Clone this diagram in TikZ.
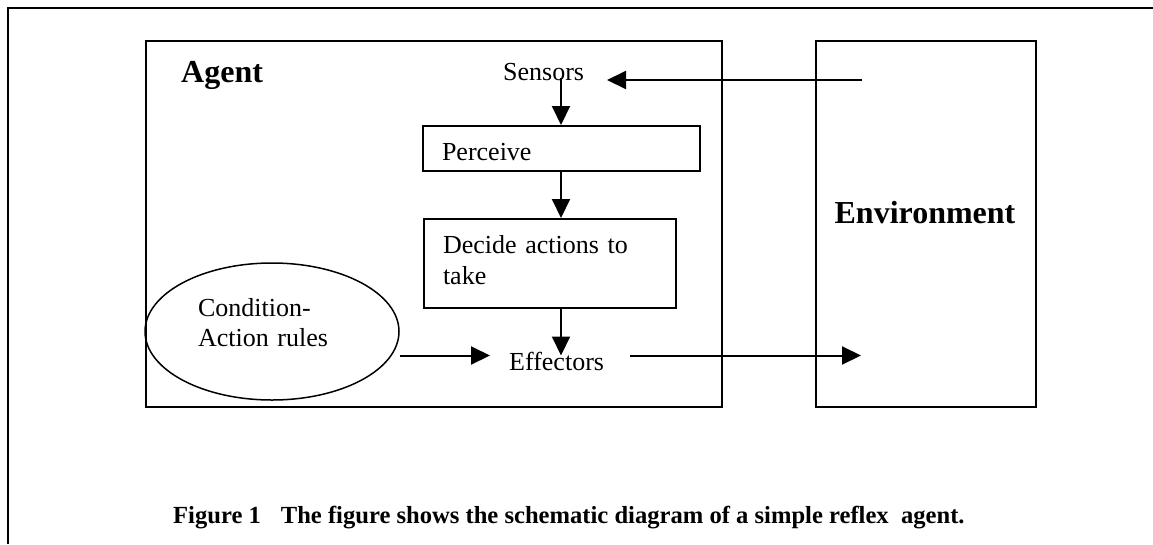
\documentclass[tikz,border=0pt]{standalone}
\usepackage{fontspec}
\setmainfont{Liberation Serif}
\usetikzlibrary{arrows.meta,shapes.geometric}
\begin{document}
\begin{tikzpicture}[x=1pt,y=-1pt,
  frame/.style={draw, line width=2pt, inner sep=0pt, anchor=north west},
  procbox/.style={draw, line width=2pt, anchor=north west, align=left, inner xsep=19pt, inner ysep=0pt, font=\fontsize{26}{31.5}\selectfont},
  txt/.style={font=\fontsize{26}{31.5}\selectfont, inner sep=0pt, anchor=base west},
  boldlbl/.style={font=\fontsize{32}{38}\selectfont\bfseries, inner sep=0pt},
  conn/.style={line width=2pt, -{Triangle[length=19pt,width=18pt]}},
]
\useasboundingbox (0,0) rectangle (1153,544);
\draw[line width=1.5pt] (8,544) -- (8,8) -- (1153,8);

\node[frame, minimum width=576pt, minimum height=365.5pt] (agent) at (145,40) {};
\node[frame, minimum width=220pt, minimum height=365.5pt] (env) at (815,40) {};
\node[boldlbl, anchor=base west] (agentlbl) at (181,82) {Agent};
\node[boldlbl, anchor=base] (envlbl) at (925,223) {Environment};

\node[txt] (sensors) at (503,80.7) {Sensors};
\node[txt] (effectors) at (509,370) {Effectors};

\node[procbox, minimum width=277pt, minimum height=45pt, text width=239pt, text height=23pt, text depth=0pt] (perceive) at (422,125) {Perceive};
\node[procbox, minimum width=252pt, minimum height=89pt, text width=214pt, text height=17.7pt, text depth=38.5pt] (decide) at (423,218) {Decide actions to\\take};

\node[ellipse, draw, line width=1.5pt, minimum width=254pt, minimum height=137pt, inner sep=0pt, text width=148pt, align=left, text height=17.7pt, text depth=47pt, font=\fontsize{26}{30}\selectfont] (cond) at (272,331.5) {Condition-\\Action rules};

\coordinate (envout) at (862,80);
\coordinate (sensin) at (607,80);
\coordinate (sensout) at (561,78);
\coordinate (effin) at (561,355.5);
\coordinate (effl) at (490,355.5);
\coordinate (effr) at (630,355.5);
\coordinate (envin) at (861,355.5);

\draw[conn] (envout) -- (sensin);
\draw[conn] (sensout) -- (sensout |- perceive.north);
\draw[conn] (sensout |- perceive.south) -- (sensout |- decide.north);
\draw[conn] (sensout |- decide.south) -- (effin);
\draw[conn] (cond.east |- effl) -- (effl);
\draw[conn] (effr) -- (envin);

\node[font=\fontsize{24.6}{29}\selectfont\bfseries, anchor=base west, inner sep=0pt] (caption) at (173,523) {Figure 1\hspace{20pt}The figure shows the schematic diagram of a simple reflex\ \ agent.};
\end{tikzpicture}
\end{document}
